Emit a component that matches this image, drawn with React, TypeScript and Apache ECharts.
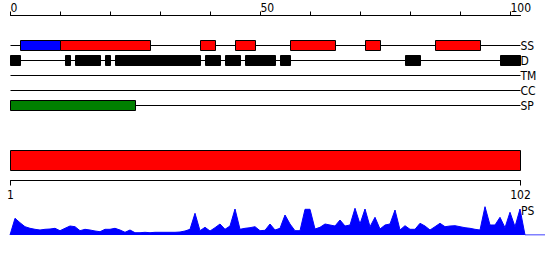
import React, { useEffect, useRef } from "react";
import * as echarts from "echarts";

const TRACKS = ["SS", "D", "TM", "CC", "SP"];
const SEQ_LEN = 102;
const ssStrand = [[2, 10]];
const ssHelix = [[10, 28], [38, 41], [45, 49], [56, 65], [71, 74], [85, 94]];
const disorder = [[0, 2], [11, 12], [13, 18], [19, 20], [21, 38], [39, 42], [43, 46], [47, 53], [54, 56], [79, 82], [98, 102]];
const transmembrane: number[][] = [];
const coiledCoil: number[][] = [];
const signalPeptide = [[0, 25]];
const topTicks = [0, 10, 20, 30, 40, 50, 60, 70, 80, 90, 100];
const topLabels = [0, 50, 100];
const domainRange = [1, 102];
const bottomLabels = [1, 102];
const psValues = [
  16.7, 12.3, 8.3, 6.7, 5.7, 5, 5.7, 6, 6.7, 4.3,
  6.7, 9, 8.3, 4.3, 5.7, 5, 4, 3.3, 5.7, 5.7,
  6.7, 5, 2.7, 5, 2.3, 2.3, 2.7, 2.3, 2.7, 2.7,
  2.7, 2.7, 2.7, 3, 4, 5.7, 21.7, 4.3, 7.7, 4,
  7.3, 11, 5.7, 9, 26, 5.7, 6.7, 7.3, 8.3, 4.3,
  4.7, 11, 5, 6.7, 20, 11, 4.3, 4.3, 25.7, 25.7,
  6, 7.7, 11, 10, 9, 15, 9, 10, 26.7, 11,
  26, 8.3, 17.7, 6, 10, 11, 25, 5, 9.3, 5.7,
  5.7, 11.7, 9, 5, 8.3, 11.7, 8.3, 9, 9.3, 8.3,
  7.3, 6.7, 5.7, 5, 28.3, 10, 10, 17.7, 7.3, 22.7,
  8.3, 26,
];

const FONT = '"DejaVu Sans Condensed", "DejaVu Sans", sans-serif';

export default function App() {
  const ref = useRef<HTMLDivElement>(null);
  useEffect(() => {
    if (!ref.current) return;
    const chart = echarts.init(ref.current, null, { renderer: "svg" });

    const lineItems = TRACKS.map((_, i) => [i, 0, SEQ_LEN]);
    const boxItems: any[] = [];
    const add = (row: number, arr: number[][], color: string) =>
      arr.forEach((r) => boxItems.push({ value: [row, r[0], r[1]], itemStyle: { color } }));
    add(0, ssStrand, "#0000ff");
    add(0, ssHelix, "#ff0000");
    add(1, disorder, "#000000");
    add(2, transmembrane, "#ffff00");
    add(3, coiledCoil, "#00ffff");
    add(4, signalPeptide, "#008000");

    const areaData: number[][] = [[0, 0]];
    psValues.forEach((v, i) => areaData.push([i + 1, v]));
    areaData.push([SEQ_LEN + 1, 0], [SEQ_LEN + 5, 0]);

    const option: any = {
      animation: false,
      grid: [
        { left: 10.5, top: 38, width: 510, height: 75 },
        { left: 10.5, top: 150.5, width: 510, height: 30 },
        { left: 10, top: 205, width: 535, height: 30 },
      ],
      xAxis: [
        {
          gridIndex: 0,
          type: "value",
          position: "top",
          min: 0,
          max: SEQ_LEN,
          offset: 22.5,
          axisLine: { show: true, lineStyle: { color: "#000", width: 1 } },
          axisTick: { show: true, length: 4, customValues: topTicks, lineStyle: { color: "#000" } },
          axisLabel: {
            show: true,
            customValues: topLabels,
            align: "left",
            margin: 2,
            color: "#000",
            fontSize: 12,
            fontFamily: FONT,
          },
          splitLine: { show: false },
        },
        {
          gridIndex: 1,
          type: "value",
          position: "bottom",
          min: domainRange[0],
          max: domainRange[1],
          axisLine: { show: true, lineStyle: { color: "#000", width: 1 } },
          axisTick: { show: true, length: 5, customValues: bottomLabels, lineStyle: { color: "#000" } },
          axisLabel: {
            show: true,
            customValues: bottomLabels,
            margin: 8,
            color: "#000",
            fontSize: 12,
            fontFamily: FONT,
          },
          splitLine: { show: false },
        },
        {
          gridIndex: 2,
          type: "value",
          min: 0,
          max: SEQ_LEN + 5,
          show: false,
        },
      ],
      yAxis: [
        {
          gridIndex: 0,
          type: "category",
          data: TRACKS,
          inverse: true,
          position: "right",
          axisLine: { show: false },
          axisTick: { show: false },
          axisLabel: { interval: 0, margin: 0, color: "#000", fontSize: 12, fontFamily: FONT, align: "left" },
          splitLine: { show: false },
        },
        { gridIndex: 1, type: "value", min: 0, max: 30, show: false },
        { gridIndex: 2, type: "value", min: 0, max: 30, show: false },
      ],
      graphic: [
        {
          type: "text",
          x: 521,
          y: 210.5,
          style: { text: "PS", fontSize: 12, fontFamily: FONT, fill: "#000", verticalAlign: "middle" },
        },
      ],
      series: [
        {
          type: "custom",
          xAxisIndex: 0,
          yAxisIndex: 0,
          z: 2,
          data: lineItems,
          renderItem: (params: any, api: any) => {
            const p0 = api.coord([api.value(1), api.value(0)]);
            const p1 = api.coord([api.value(2), api.value(0)]);
            return {
              type: "line",
              shape: { x1: p0[0], y1: p0[1], x2: p1[0], y2: p1[1] },
              style: { stroke: "#000", lineWidth: 1 },
            };
          },
        },
        {
          type: "custom",
          xAxisIndex: 0,
          yAxisIndex: 0,
          z: 3,
          data: boxItems,
          renderItem: (params: any, api: any) => {
            const p0 = api.coord([api.value(1), api.value(0)]);
            const p1 = api.coord([api.value(2), api.value(0)]);
            return {
              type: "rect",
              shape: { x: p0[0], y: p0[1] - 5, width: p1[0] - p0[0], height: 10 },
              style: { fill: api.visual("color"), stroke: "#000", lineWidth: 1 },
            };
          },
        },
        {
          type: "custom",
          xAxisIndex: 1,
          yAxisIndex: 1,
          data: [[domainRange[0], domainRange[1]]],
          renderItem: (params: any, api: any) => {
            const p0 = api.coord([api.value(0), 30]);
            const p1 = api.coord([api.value(1), 10]);
            return {
              type: "rect",
              shape: { x: p0[0], y: p0[1], width: p1[0] - p0[0], height: p1[1] - p0[1] },
              style: { fill: "#ff0000", stroke: "#000", lineWidth: 1 },
            };
          },
        },
        {
          type: "line",
          xAxisIndex: 2,
          yAxisIndex: 2,
          data: areaData,
          showSymbol: false,
          symbol: "none",
          lineStyle: { color: "#0000ff", width: 1 },
          itemStyle: { color: "#0000ff" },
          areaStyle: { color: "#0000ff", opacity: 1 },
        },
      ],
    };
    chart.setOption(option);
    return () => chart.dispose();
  }, []);
  return (
    <div
      ref={ref}
      style={{ position: "fixed", left: 0, top: 0, width: 550, height: 260, background: "#fff" }}
    />
  );
}
